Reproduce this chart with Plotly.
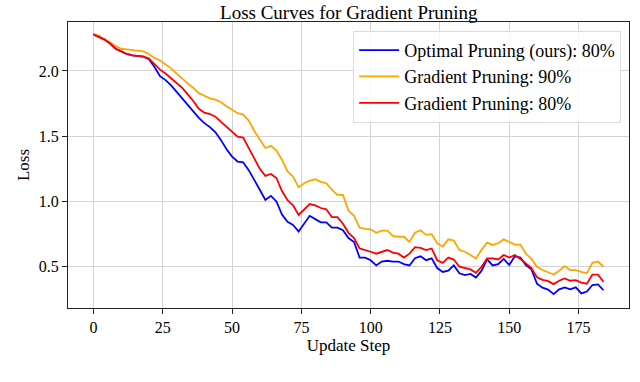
import plotly.graph_objects as go

# Update steps (every 2nd step)
steps = [0, 2, 4, 6, 8, 10, 12, 14, 16, 18, 20, 22, 24, 26, 28, 30, 32, 34, 36, 38,
         40, 42, 44, 46, 48, 50, 52, 54, 56, 58, 60, 62, 64, 66, 68, 70, 72, 74, 76, 78,
         80, 82, 84, 86, 88, 90, 92, 94, 96, 98, 100, 102, 104, 106, 108, 110, 112, 114, 116, 118,
         120, 122, 124, 126, 128, 130, 132, 134, 136, 138, 140, 142, 144, 146, 148, 150, 152, 154, 156, 158,
         160, 162, 164, 166, 168, 170, 172, 174, 176, 178, 180, 182, 184]

loss_optimal_80 = [2.28, 2.26, 2.24, 2.21, 2.17, 2.15, 2.13, 2.12, 2.115, 2.11, 2.09, 2.03, 1.96, 1.93, 1.89, 1.84, 1.79, 1.74, 1.69, 1.64,
                   1.60, 1.57, 1.53, 1.47, 1.40, 1.344, 1.306, 1.30, 1.24, 1.17, 1.09, 1.012, 1.043, 1.00, 0.90, 0.845, 0.82, 0.77, 0.83, 0.89,
                   0.865, 0.84, 0.84, 0.80, 0.80, 0.78, 0.72, 0.69, 0.57, 0.57, 0.55, 0.51, 0.54, 0.546, 0.54, 0.54, 0.52, 0.51, 0.565, 0.58,
                   0.55, 0.564, 0.49, 0.46, 0.47, 0.51, 0.45, 0.436, 0.445, 0.418, 0.47, 0.556, 0.51, 0.52, 0.56, 0.513, 0.58, 0.57, 0.513, 0.48,
                   0.37, 0.34, 0.325, 0.29, 0.327, 0.342, 0.327, 0.342, 0.296, 0.31, 0.36, 0.365, 0.32]

loss_gradient_90 = [2.28, 2.27, 2.24, 2.22, 2.19, 2.17, 2.165, 2.16, 2.16, 2.15, 2.13, 2.10, 2.08, 2.05, 2.02, 1.98, 1.94, 1.905, 1.87, 1.83,
                    1.81, 1.79, 1.78, 1.76, 1.73, 1.70, 1.676, 1.665, 1.62, 1.54, 1.47, 1.41, 1.426, 1.39, 1.32, 1.23, 1.19, 1.11, 1.14, 1.16,
                    1.17, 1.15, 1.14, 1.09, 1.05, 1.05, 0.93, 0.89, 0.80, 0.79, 0.787, 0.76, 0.777, 0.777, 0.736, 0.73, 0.73, 0.69, 0.76, 0.78,
                    0.744, 0.75, 0.68, 0.654, 0.71, 0.70, 0.628, 0.615, 0.59, 0.564, 0.63, 0.685, 0.667, 0.68, 0.71, 0.69, 0.67, 0.67, 0.60, 0.56,
                    0.50, 0.475, 0.46, 0.44, 0.47, 0.505, 0.474, 0.474, 0.46, 0.45, 0.53, 0.54, 0.50]

loss_gradient_80 = [2.28, 2.26, 2.24, 2.21, 2.17, 2.15, 2.13, 2.12, 2.117, 2.11, 2.095, 2.05, 2.01, 1.98, 1.944, 1.91, 1.87, 1.82, 1.77, 1.71,
                    1.68, 1.67, 1.65, 1.61, 1.57, 1.535, 1.497, 1.49, 1.41, 1.33, 1.25, 1.196, 1.211, 1.18, 1.08, 1.01, 0.97, 0.897, 0.935, 0.98,
                    0.97, 0.95, 0.94, 0.88, 0.88, 0.83, 0.76, 0.72, 0.64, 0.63, 0.615, 0.60, 0.615, 0.628, 0.608, 0.60, 0.57, 0.60, 0.65, 0.645,
                    0.628, 0.64, 0.55, 0.53, 0.57, 0.555, 0.50, 0.49, 0.48, 0.454, 0.50, 0.564, 0.564, 0.556, 0.59, 0.571, 0.59, 0.56, 0.525, 0.49,
                    0.42, 0.40, 0.39, 0.367, 0.393, 0.41, 0.393, 0.398, 0.378, 0.37, 0.44, 0.44, 0.385]

x_ticks = [0, 25, 50, 75, 100, 125, 150, 175]
y_ticks = [0.5, 1.0, 1.5, 2.0]

SERIF = "Liberation Serif, Times New Roman, serif"

fig = go.Figure()
fig.add_trace(go.Scatter(x=steps, y=loss_optimal_80, mode="lines",
                         name="Optimal Pruning (ours): 80%",
                         line=dict(color="#0000ff", width=1.8)))
fig.add_trace(go.Scatter(x=steps, y=loss_gradient_90, mode="lines",
                         name="Gradient Pruning: 90%",
                         line=dict(color="#ffa500", width=1.8)))
fig.add_trace(go.Scatter(x=steps, y=loss_gradient_80, mode="lines",
                         name="Gradient Pruning: 80%",
                         line=dict(color="#ff0000", width=1.8)))

axis_style = dict(
    showgrid=True, gridcolor="#d3d3d3", gridwidth=1.3,
    showline=True, linecolor="#222222", linewidth=1.3, mirror=True,
    ticks="outside", ticklen=5, tickcolor="#222222",
    tickfont=dict(family=SERIF, size=16, color="black"),
    zeroline=False, automargin=False,
)

fig.update_layout(
    width=640, height=382,
    paper_bgcolor="white", plot_bgcolor="white",
    margin=dict(l=68, r=11, t=22, b=74),
    font=dict(family=SERIF, color="black"),
    title=dict(text="Loss Curves for Gradient Pruning", x=0.545, xanchor="center",
               y=0.985, yanchor="top", font=dict(family=SERIF, size=19, color="black")),
    xaxis=dict(axis_style, range=[-9.2, 193.2], tickvals=x_ticks,
               title=dict(text="Update Step", font=dict(family=SERIF, size=17), standoff=0)),
    yaxis=dict(axis_style, range=[0.184, 2.375], tickvals=y_ticks, tickformat=".1f",
               title=dict(text="Loss", font=dict(family=SERIF, size=17), standoff=4)),
    legend=dict(x=0.986, xanchor="right", y=0.969, yanchor="top",
                bgcolor="rgba(255,255,255,0.85)", bordercolor="#dddddd", borderwidth=1,
                font=dict(family=SERIF, size=18, color="black"),
                itemwidth=40, tracegroupgap=0),
    showlegend=True,
)

# caption of the source figure, only its top edge shows in the crop
fig.add_annotation(
    text="Figure 3: Training curves of CNN and MNIST with 80% sparsity.",
    xref="paper", yref="paper", x=-0.121, y=-0.234, xanchor="left", yanchor="top",
    showarrow=False, font=dict(family=SERIF, size=28, color="#333333"),
)

# drop the browser's default body margin so the figure sits at the page corner
fig.write_html("out.html", config={"displayModeBar": False},
               post_script="document.body.style.margin = '0';")
